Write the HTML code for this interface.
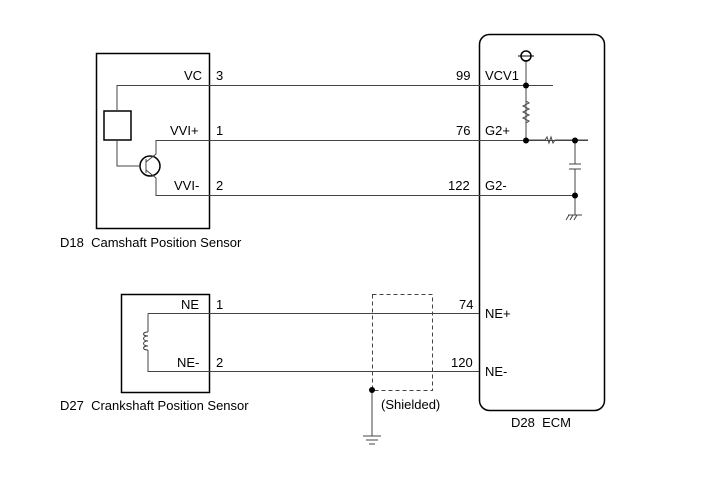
<!DOCTYPE html>
<html><head><style>body{margin:0;background:#fff}svg{display:block}text{font-family:"Liberation Sans",Arial,sans-serif;font-size:13px;fill:#000}</style></head><body>
<svg width="713" height="481" viewBox="0 0 713 481" xmlns="http://www.w3.org/2000/svg">
<g fill="none" stroke="#000">
<rect x="96.5" y="53.5" width="113" height="175" stroke-width="1.5"/>
<rect x="121.5" y="294.5" width="88" height="98" stroke-width="1.5"/>
<rect x="479.5" y="34.5" width="125" height="376" rx="10" stroke-width="1.5"/>
<rect x="104" y="111" width="27" height="29" stroke-width="1.5"/>
<circle cx="150" cy="166" r="10" stroke-width="1.5"/>
</g>
<g fill="none" stroke="#444" stroke-width="1">
<path d="M117 111V85.5H553"/>
<path d="M117 140V166H140"/>
<path d="M146 159V173"/>
<path d="M146 162L156 154V140.5H588"/>
<path d="M146 170L156 178V195.5H575"/>
<path d="M526 60V140"/>
<path d="M526 140H545l2-3 2 6 2-6 2 6 2-3H588"/>
<path d="M575 140V164M569 164H581M569 169H581M575 169V215"/>
<path d="M568 215H582M569 215l-3 5M573 215l-3 5M577 215l-3 5"/>
<path d="M148 313.5H479M148 313.5V332M148 350V371.5H479"/>
<path d="M148 332c-6 0-6 4 0 4c-6 0-6 5 0 5c-6 0-6 5 0 5c-6 0-6 4 0 4"/>
<path d="M372 390V436M363 436H381M366 440H378M369 444H375"/>
<path d="M526 101l3 2-6 3 6 3-6 3 6 3-6 3 6 3-3 2" />
</g>
<circle cx="526" cy="56" r="5" fill="none" stroke="#000" stroke-width="1.5"/>
<line x1="518" y1="56" x2="534" y2="56" stroke="#000"/>
<rect x="372.5" y="294.5" width="60" height="96" fill="none" stroke="#444" stroke-dasharray="4,3"/>
<g fill="#000"><circle cx="526" cy="85.5" r="3"/><circle cx="526" cy="140.5" r="3"/><circle cx="575" cy="140.5" r="3"/><circle cx="575" cy="195.5" r="3"/><circle cx="372" cy="390" r="3"/></g>
<text x="184" y="80">VC</text><text x="216" y="80">3</text>
<text x="170" y="135">VVI+</text><text x="216" y="135">1</text>
<text x="174" y="190">VVI-</text><text x="216" y="190">2</text>
<text x="456" y="80">99</text><text x="485" y="80">VCV1</text>
<text x="456" y="135">76</text><text x="485" y="135">G2+</text>
<text x="448" y="190">122</text><text x="485" y="190">G2-</text>
<text x="60" y="247">D18&#160;&#160;Camshaft Position Sensor</text>
<text x="181" y="309">NE</text><text x="216" y="309">1</text>
<text x="177" y="367">NE-</text><text x="216" y="367">2</text>
<text x="459" y="309">74</text><text x="485" y="318">NE+</text>
<text x="451" y="367">120</text><text x="485" y="376">NE-</text>
<text x="60" y="410">D27&#160;&#160;Crankshaft Position Sensor</text>
<text x="381" y="409">(Shielded)</text>
<text x="511" y="427">D28&#160;&#160;ECM</text>
</svg>
</body></html>
